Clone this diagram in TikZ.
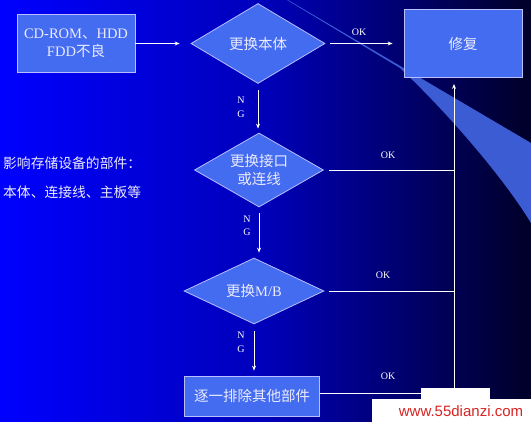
\documentclass[tikz,border=0pt]{standalone}
\usepackage{fontspec}
\setmainfont{Liberation Serif}
\newfontfamily\cjk{Noto Sans CJK SC}
\newfontfamily\wmfont{Liberation Sans}
\usetikzlibrary{shapes.geometric,arrows.meta}
\definecolor{bgl}{RGB}{0,0,255}
\definecolor{bgm}{RGB}{0,0,185}
\definecolor{bgr}{RGB}{0,0,40}
\definecolor{fillb}{RGB}{68,108,240}
\definecolor{edgeb}{RGB}{185,190,255}
\definecolor{txt}{RGB}{235,235,255}
\definecolor{swoosh}{RGB}{60,92,212}
\definecolor{wmred}{RGB}{215,35,35}
\tikzset{
  boxst/.style={draw=edgeb, line width=0.8pt, fill=fillb, text=txt, align=center, inner sep=0pt},
  diast/.style={diamond, draw=edgeb, line width=0.8pt, fill=fillb, text=txt, align=center, inner sep=0pt, aspect=1.7},
  arr/.style={draw=white, line width=0.8pt, -{Stealth[length=5pt,width=4pt]}},
  ln/.style={draw=white, line width=0.8pt},
  lab/.style={text=white, font=\fontsize{10}{11}\selectfont, inner sep=0pt},
  big/.style={font=\fontsize{14.5}{18.5}\selectfont}
}
\begin{document}
\begin{tikzpicture}[x=1pt,y=-1pt]
\useasboundingbox (0,0) rectangle (531,422);
\shade[left color=bgl, right color=bgr, middle color=bgm] (0,0) rectangle (531,422);
% decorative swoosh
\fill[swoosh] (288,0) -- (531,143) -- (531,223) .. controls (505,180) and (450,115) .. (400,68) -- (287,0) -- cycle;

% nodes
\node[boxst, big, minimum width=118pt, minimum height=58pt] (start) at (76,43.5) {CD-ROM{\cjk 、}HDD\\FDD{\cjk 不良}};
\node[diast, big, minimum width=134pt, minimum height=80pt] (d1) at (258,43.5) {\cjk 更换本体};
\node[boxst, big, minimum width=118pt, minimum height=68pt] (fix) at (463,43.5) {\cjk 修复};
\node[diast, big, minimum width=129pt, minimum height=74pt] (d2) at (259,170) {\cjk 更换接口\\\cjk 或连线};
\node[diast, big, minimum width=140pt, minimum height=66pt] (d3) at (254,291) {{\cjk 更换}M/B};
\node[boxst, big, minimum width=135pt, minimum height=40pt] (other) at (252,396) {\cjk 逐一排除其他部件};

\node[anchor=west, text=txt, font=\fontsize{13.8}{16}\selectfont, inner sep=0pt] (note1) at (3,163) {\cjk 影响存储设备的部件：};
\node[anchor=west, text=txt, font=\fontsize{13.8}{16}\selectfont, inner sep=0pt] (note2) at (3,192) {\cjk 本体、连接线、主板等};

\coordinate (v) at (454,393);

% connectors
\draw[arr, shorten >=11pt] (start.east) -- (d1.west);
\draw[arr, shorten <=5pt, shorten >=11pt] (d1.east) -- (fix.west);
\draw[arr, shorten <=6pt, shorten >=4pt] (d1.south) -- (d1.south |- d2.north);
\draw[arr, shorten <=6pt, shorten >=5pt] (d2.south) -- (d2.south |- d3.north);
\draw[arr, shorten <=7pt, shorten >=5pt] (d3.south) -- (d3.south |- other.north);
\draw[ln, shorten <=5pt] (d2.east) -- (d2.east -| v);
\draw[ln, shorten <=5pt] (d3.east) -- (d3.east -| v);
\draw[ln] (other.east |- v) -- (v);
\draw[arr, shorten >=6pt] (v) -- (v |- fix.south);

% labels
\node[lab] (ok1) at (359,32) {OK};
\node[lab] (ok2) at (388,155) {OK};
\node[lab] (ok3) at (383,275) {OK};
\node[lab] (ok4) at (388,376) {OK};
\node[lab] (n1) at (241,100) {N};
\node[lab] (g1) at (241,114) {G};
\node[lab] (n2) at (247,219) {N};
\node[lab] (g2) at (247,232) {G};
\node[lab] (n3) at (241,335) {N};
\node[lab] (g3) at (241,349) {G};

% watermark
\fill[white] (372,399) rectangle (531,422);
\fill[white] (421,388) rectangle (490,400);
\node[text=wmred, font=\wmfont\fontsize{15}{16}\selectfont, inner sep=0pt] (wm) at (461,411) {www.55dianzi.com};
\end{tikzpicture}
\end{document}
